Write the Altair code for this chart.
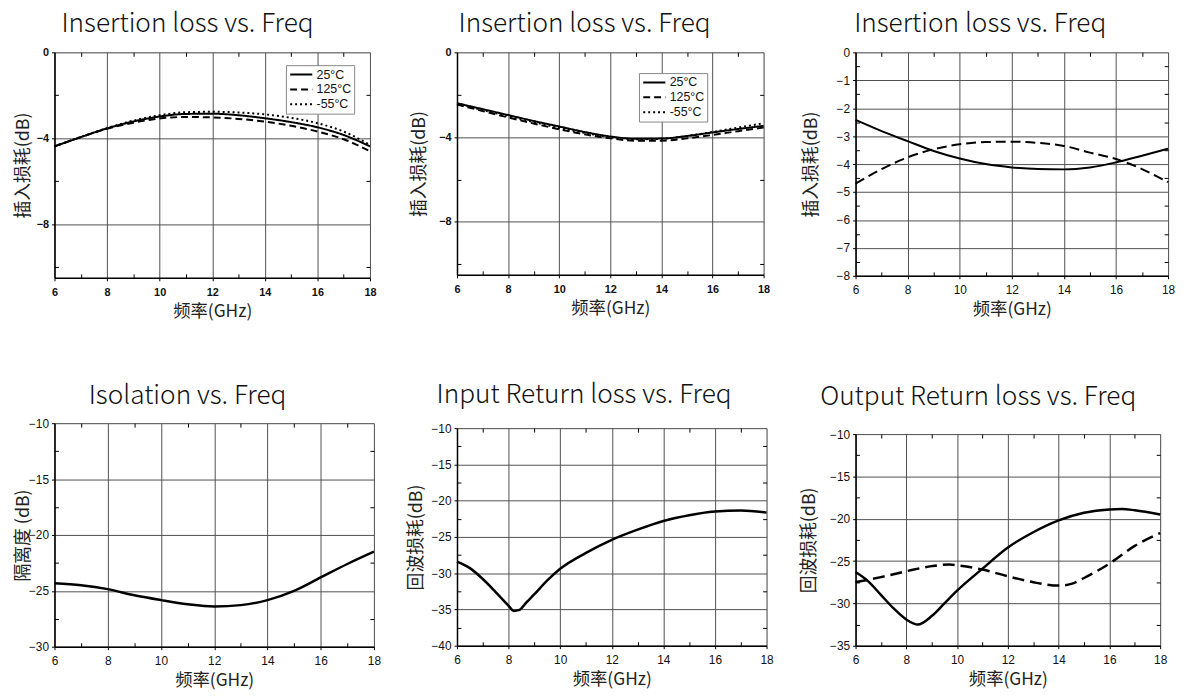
import altair as alt
import pandas as pd

# ---------------- data ----------------
f_int = [6, 7, 8, 9, 10, 11, 12, 13, 14, 15, 16, 17, 18]

# Panel 1 : insertion loss, three temperatures
p1_25 = [-4.38, -3.95, -3.54, -3.22, -2.99, -2.87, -2.86, -2.93, -3.07, -3.25, -3.49, -3.85, -4.38]
p1_125 = [-4.38, -3.95, -3.56, -3.28, -3.08, -3.01, -3.03, -3.10, -3.23, -3.42, -3.69, -4.05, -4.61]
p1_m55 = [-4.38, -3.94, -3.53, -3.18, -2.93, -2.79, -2.77, -2.80, -2.89, -3.05, -3.30, -3.69, -4.31]

# Panel 2 : insertion loss, three temperatures
p2_25 = [-2.40, -2.68, -2.96, -3.24, -3.50, -3.76, -3.97, -4.08, -4.07, -3.95, -3.78, -3.62, -3.47]
p2_125 = [-2.46, -2.77, -3.07, -3.36, -3.63, -3.87, -4.06, -4.17, -4.17, -4.06, -3.90, -3.72, -3.55]
p2_m55 = [-2.43, -2.72, -3.01, -3.29, -3.56, -3.80, -4.00, -4.10, -4.08, -3.95, -3.76, -3.55, -3.35]

# Panel 3 : insertion loss, two paths
p3_solid = [-2.42, -2.82, -3.18, -3.53, -3.80, -4.00, -4.12, -4.18, -4.19, -4.12, -3.94, -3.70, -3.45]
p3_dash = [-4.70, -4.18, -3.76, -3.47, -3.29, -3.21, -3.20, -3.24, -3.35, -3.59, -3.82, -4.18, -4.65]

# Panel 4 : isolation
p4_iso = [-24.32, -24.50, -24.85, -25.40, -25.83, -26.20, -26.40, -26.28, -25.83, -25.00, -23.80, -22.60, -21.50]

# Panel 5 : input return loss
p5_f = [6, 6.5, 7, 7.5, 8, 8.2, 8.4, 8.7, 9, 9.5, 10, 11, 12, 13, 14, 15, 16, 17, 18]
p5_rl = [-28.4, -29.3, -30.8, -32.6, -34.5, -35.2, -35.1, -34.0, -32.9, -31.0, -29.4, -27.2,
         -25.4, -24.0, -22.8, -22.0, -21.5, -21.35, -21.65]

# Panel 6 : output return loss, two paths
p6_f_solid = [6, 6.5, 7, 7.5, 8, 8.45, 9, 9.5, 10, 11, 12, 13, 14, 15, 16, 16.5, 17, 18]
p6_solid = [-26.3, -27.4, -29.0, -30.6, -31.9, -32.5, -31.5, -30.0, -28.5, -25.9, -23.4,
            -21.6, -20.2, -19.3, -18.9, -18.85, -19.0, -19.5]
p6_f_dash = [6, 7, 8, 9, 9.7, 10, 11, 12, 13, 14, 14.5, 15, 16, 17, 18]
p6_dash = [-27.5, -26.9, -26.2, -25.6, -25.4, -25.5, -26.0, -26.8, -27.5, -27.9, -27.7,
           -27.0, -25.3, -23.2, -21.7]

temps = ["25°C", "125°C", "-55°C"]
x_major = [6, 8, 10, 12, 14, 16, 18]
x_minor = [7, 9, 11, 13, 15, 17]

TITLE_FONT = "Noto Sans CJK SC"
CJK = "Noto Sans CJK SC"
LAB = "Liberation Sans"


def long_df(fs, series, names):
    rows = []
    for name, vals in zip(names, series):
        for f, v in zip(fs, vals):
            rows.append({"f": f, "v": v, "s": name})
    return pd.DataFrame(rows)


def panel(df, title, title_offset, title_dx, W, H, ydom, ymajor, yminor, ytitle, ytp,
          xtp, bold, line_layers):
    xs = alt.Scale(domain=[6, 18], nice=False, zero=False)
    ys = alt.Scale(domain=ydom, nice=False, zero=False)
    lw = "bold" if bold else "normal"
    lsize = 11 if bold else 12
    x_main = alt.Axis(values=x_major, title="频率(GHz)", grid=True, gridColor="#505050",
                      gridWidth=1, tickSize=3, tickColor="#000", domainColor="#000",
                      domainWidth=1.5, labelFont=LAB, labelFontSize=lsize,
                      labelFontWeight=lw, labelColor="#111", labelPadding=6,
                      titleFont=CJK, titleFontSize=17.5, titleFontWeight="normal",
                      titleColor="#222", titlePadding=xtp, labelFlush=False)
    y_main = alt.Axis(values=ymajor, title=ytitle, grid=True, gridColor="#505050",
                      gridWidth=1, tickSize=3, tickColor="#000", domainColor="#000",
                      domainWidth=1.5, labelFont=LAB, labelFontSize=lsize,
                      labelFontWeight=lw, labelColor="#111", labelPadding=3,
                      titleFont=CJK, titleFontSize=18, titleFontWeight="normal",
                      titleColor="#222", titlePadding=ytp, minExtent=22, maxExtent=22,
                      labelFlush=False)

    layers = []
    for i, (mk, enc_extra) in enumerate(line_layers):
        ch = alt.Chart(df).transform_filter(enc_extra["filter"]) if "filter" in enc_extra else alt.Chart(df)
        enc = dict(
            x=alt.X("f:Q", scale=xs, axis=x_main if i == 0 else None),
            y=alt.Y("v:Q", scale=ys, axis=y_main if i == 0 else None),
        )
        if "strokeDash" in enc_extra:
            enc["strokeDash"] = enc_extra["strokeDash"]
        layers.append(ch.mark_line(**mk).encode(**enc))

    minor_common = dict(labels=False, grid=False, domain=False, tickSize=4,
                        tickColor="#000", tickWidth=1, title=None)
    # inward minor ticks on bottom and left borders
    t1 = alt.Chart(df).mark_point(opacity=0).encode(
        x=alt.X("f:Q", scale=xs, axis=alt.Axis(orient="top", offset=-H, values=x_minor, **minor_common)),
        y=alt.Y("v:Q", scale=ys, axis=alt.Axis(orient="right", offset=-W, values=yminor, **minor_common)),
    )
    # inward minor ticks on top and right borders
    t2 = alt.Chart(df).mark_point(opacity=0).encode(
        x=alt.X("f:Q", scale=xs, axis=alt.Axis(orient="bottom", offset=-H, values=x_minor, **minor_common)),
        y=alt.Y("v:Q", scale=ys, axis=alt.Axis(orient="left", offset=-W, values=yminor, **minor_common)),
    )
    ch = alt.layer(*layers, t1, t2).resolve_axis(x="independent", y="independent").properties(
        width=W, height=H,
        title=alt.TitleParams(title, font=TITLE_FONT, fontSize=26.5, fontWeight=300,
                              color="#111", offset=title_offset, anchor="middle",
                              dx=title_dx),
    )
    return ch


def legend_dash(lx, ly):
    return alt.StrokeDash(
        "s:N",
        scale=alt.Scale(domain=temps, range=[[1, 0], [7, 4], [2, 3]]),
        sort=temps,
        legend=alt.Legend(orient="none", legendX=lx, legendY=ly, title=None,
                          symbolType="stroke", symbolSize=500, symbolStrokeWidth=2,
                          symbolStrokeColor="#000", labelFont=LAB, labelFontSize=12.5,
                          labelColor="#111", strokeColor="#888", padding=3,
                          clipHeight=13, rowPadding=2, labelOffset=3, fillColor="#fff"),
    )


# ---------- panel 1 ----------
df1 = long_df(f_int, [p1_25, p1_125, p1_m55], temps)
c1 = panel(df1, "Insertion loss vs. Freq", 9, -25, 319, 228, [-10.5, 0], [0, -4, -8],
           [-2, -6, -10], "插入损耗(dB)", 0, 5, True,
           [(dict(color="#000", strokeWidth=2, interpolate="monotone"),
             {"strokeDash": legend_dash(234, 13)})])

# ---------- panel 2 ----------
df2 = long_df(f_int, [p2_25, p2_125, p2_m55], temps)
c2 = panel(df2, "Insertion loss vs. Freq", 9, -26, 310, 225, [-10.5, 0], [0, -4, -8],
           [-2, -6, -10], "插入损耗(dB)", 7, 5, True,
           [(dict(color="#000", strokeWidth=2, interpolate="monotone"),
             {"strokeDash": legend_dash(184, 21)})])

# ---------- panel 3 ----------
df3 = long_df(f_int, [p3_solid, p3_dash], ["a", "b"])
c3 = panel(df3, "Insertion loss vs. Freq", 9, -32, 316, 226, [-8, 0], [0, -1, -2, -3, -4, -5, -6, -7, -8],
           [-0.5, -1.5, -2.5, -3.5, -4.5, -5.5, -6.5, -7.5], "插入损耗(dB)", 14, 5, False,
           [(dict(color="#000", strokeWidth=2, interpolate="monotone"),
             {"filter": alt.datum.s == "a"}),
            (dict(color="#000", strokeWidth=2, strokeDash=[10, 5], interpolate="monotone"),
             {"filter": alt.datum.s == "b"})])

# ---------- panel 4 ----------
df4 = long_df(f_int, [p4_iso], ["a"])
c4 = panel(df4, "Isolation vs. Freq", 8, -27, 323, 226, [-30, -10], [-10, -15, -20, -25, -30],
           [-12.5, -17.5, -22.5, -27.5], "隔离度 (dB)", 0, 5, False,
           [(dict(color="#000", strokeWidth=2.5, interpolate="monotone"), {})])

# ---------- panel 5 ----------
df5 = long_df(p5_f, [p5_rl], ["a"])
c5 = panel(df5, "Input Return loss vs. Freq", 14, -28, 313, 220, [-40, -10],
           [-10, -15, -20, -25, -30, -35, -40],
           [-12.5, -17.5, -22.5, -27.5, -32.5, -37.5], "回波损耗(dB)", 10, 5, False,
           [(dict(color="#000", strokeWidth=2.5, interpolate="monotone"), {})])

# ---------- panel 6 ----------
df6 = pd.concat([long_df(p6_f_solid, [p6_solid], ["a"]),
                 long_df(p6_f_dash, [p6_dash], ["b"])], ignore_index=True)
c6 = panel(df6, "Output Return loss vs. Freq", 18, -30, 308, 214, [-35, -10],
           [-10, -15, -20, -25, -30, -35],
           [-12.5, -17.5, -22.5, -27.5, -32.5], "回波损耗(dB)", 16, 5, False,
           [(dict(color="#000", strokeWidth=2.5, interpolate="monotone"),
             {"filter": alt.datum.s == "a"}),
            (dict(color="#000", strokeWidth=2.5, strokeDash=[12, 6], interpolate="monotone"),
             {"filter": alt.datum.s == "b"})])

col1 = alt.vconcat(c1, c4, spacing=63)
col2 = alt.vconcat(c2, c5, spacing=65)
col3 = alt.vconcat(c3, c6, spacing=66)

chart = alt.hconcat(col1, col2, col3, spacing=25).resolve_scale(
    strokeDash="independent"
).properties(
    padding={"left": 6, "top": -1, "right": 0, "bottom": 0}
).configure_view(stroke="#000", strokeWidth=1.2).configure(background="#ffffff")

chart.save("out.html", embed_options={"renderer": "svg", "actions": False})
